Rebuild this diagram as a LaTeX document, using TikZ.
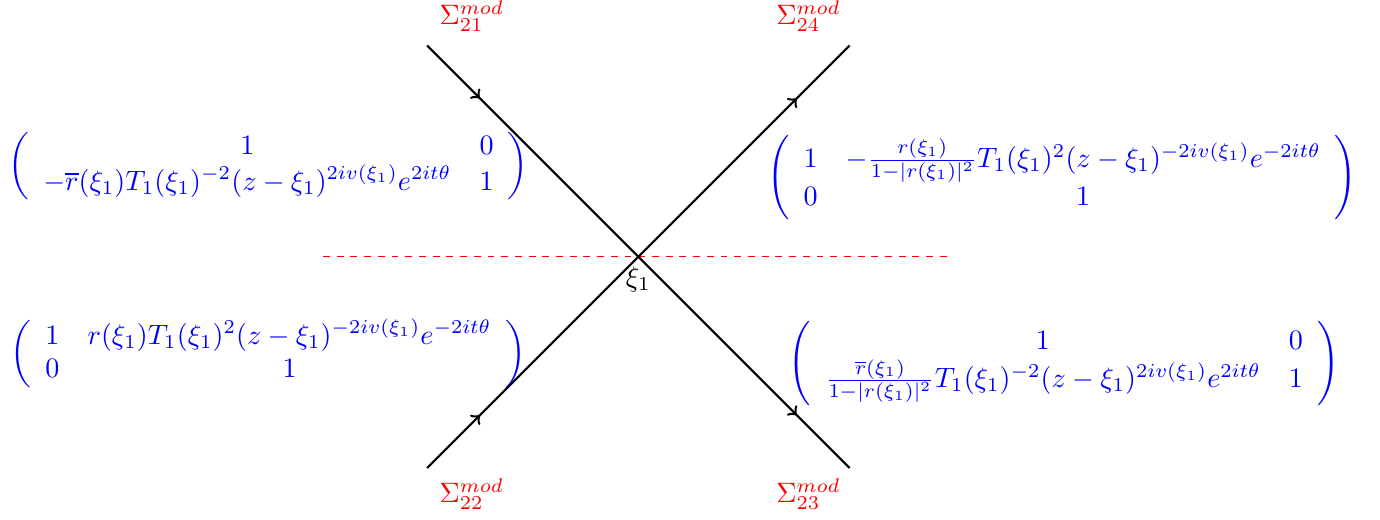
\documentclass[tikz,border=0pt]{standalone}
\usepackage{amsmath,amssymb}
\usetikzlibrary{decorations.markings}

\begin{document}
\begin{tikzpicture}[x=1cm,y=1cm,
  every node/.style={scale=1.23},
  contour/.style={line width=0.95pt,postaction={decorate},
    decoration={markings,
      mark=at position 0.125 with {\arrow[scale=1.15]{>}},
      mark=at position 0.875 with {\arrow[scale=1.15]{>}}}},
  jumpmat/.style={blue},
  sigmalab/.style={red}]
\useasboundingbox (-9.82,-4.04) rectangle (11.41,3.95);
\coordinate (xi) at (0,0);
\coordinate (nw) at (-3.25,3.25);
\coordinate (ne) at (3.25,3.25);
\coordinate (sw) at (-3.25,-3.25);
\coordinate (se) at (3.25,-3.25);
\coordinate (cutL) at (-4.85,0);
\coordinate (cutR) at (4.85,0);
% real axis cut
\draw[red,dashed] (cutL) -- (cutR);
% the four rays
\draw[contour] (nw) -- (se);
\draw[contour] (sw) -- (ne);
\node[below] (xilab) at (xi) {$\xi_1$};
\node[sigmalab] (s21) at (-2.56,3.7) {$\Sigma_{21}^{mod}$};
\node[sigmalab] (s24) at (2.62,3.7) {$\Sigma_{24}^{mod}$};
\node[sigmalab] (s22) at (-2.56,-3.65) {$\Sigma_{22}^{mod}$};
\node[sigmalab] (s23) at (2.62,-3.65) {$\Sigma_{23}^{mod}$};
% jump matrices
\node[jumpmat] (m21) at (-5.69,1.4) {$\left(\begin{array}{cc}
  1 & 0\\
  -\overline{r}(\xi_1)T_1(\xi_1)^{-2}(z-\xi_1)^{2iv(\xi_1)}e^{2it\theta} & 1
  \end{array}\right)$};
\node[jumpmat] (m24) at (6.52,1.22) {$\left(\begin{array}{cc}
  1 & -\frac{r(\xi_1)}{1-|r(\xi_1)|^2}T_1(\xi_1)^2(z-\xi_1)^{-2iv(\xi_1)}e^{-2it\theta}\\
  0 & 1
  \end{array}\right)$};
\node[jumpmat] (m22) at (-5.69,-1.49) {$\left(\begin{array}{cc}
  1 & r(\xi_1)T_1(\xi_1)^2(z-\xi_1)^{-2iv(\xi_1)}e^{-2it\theta}\\
  0 & 1
  \end{array}\right)$};
\node[jumpmat] (m23) at (6.55,-1.65) {$\left(\begin{array}{cc}
  1 & 0\\
  \frac{\overline{r}(\xi_1)}{1-|r(\xi_1)|^2}T_1(\xi_1)^{-2}(z-\xi_1)^{2iv(\xi_1)}e^{2it\theta} & 1
  \end{array}\right)$};
\end{tikzpicture}
\end{document}
